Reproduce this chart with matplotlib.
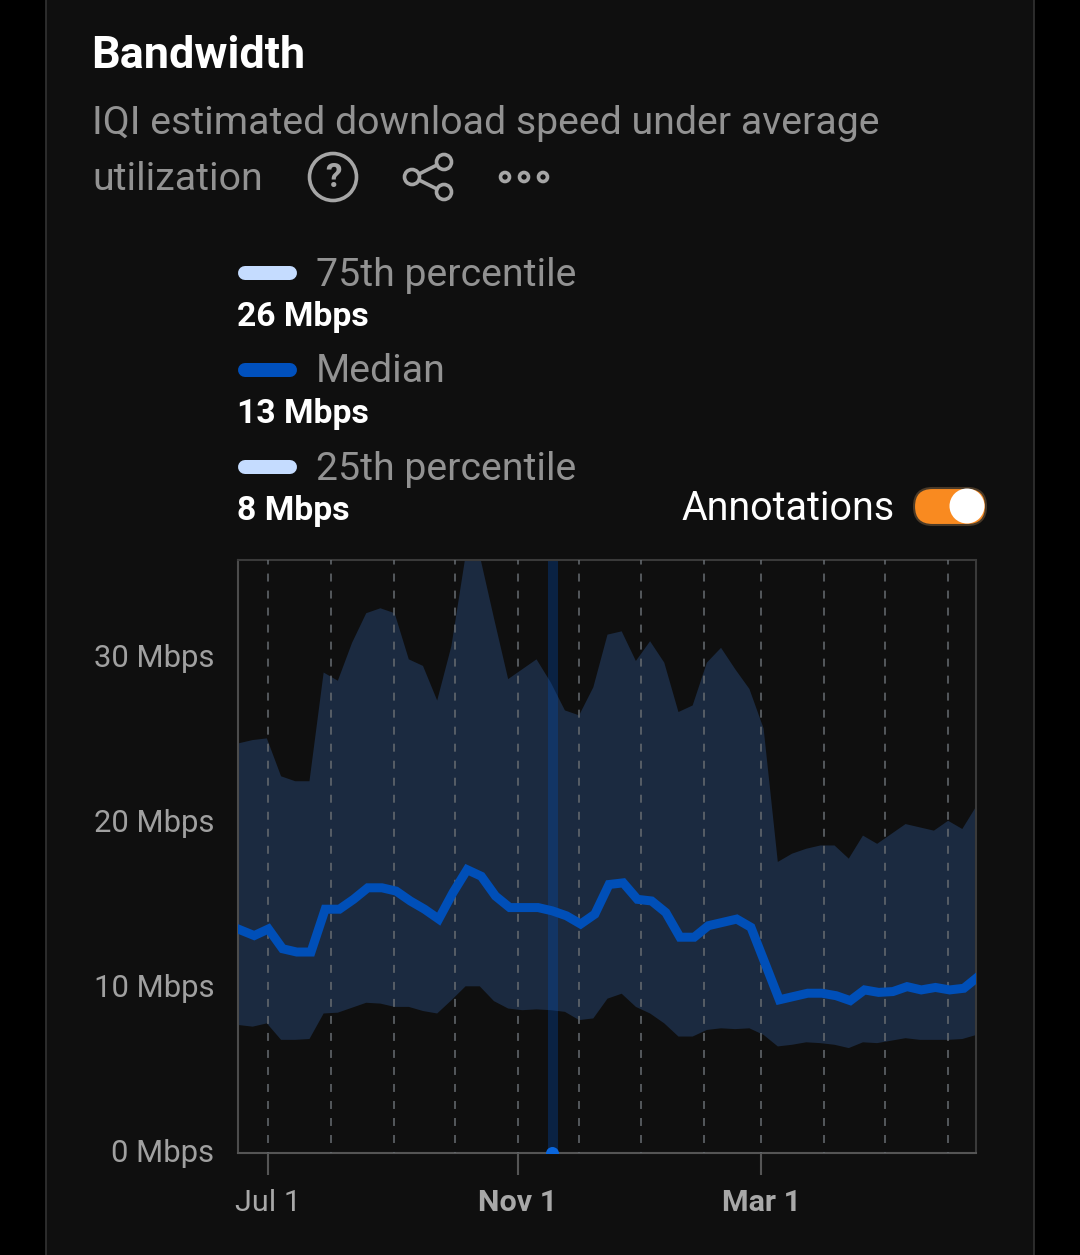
import datetime as dt
import matplotlib
matplotlib.use("Agg")
import matplotlib.pyplot as plt
import matplotlib.dates as mdates
from matplotlib.patches import Circle, FancyBboxPatch, Rectangle

plt.rcParams['font.family'] = ['Roboto', 'DejaVu Sans']

START = dt.date(2022, 6, 16)
upper = [24.9, 25.1, 25.2, 22.9, 22.6, 22.6, 29.2, 28.7, 31.0, 32.8, 33.1, 32.8, 30.0,
         29.6, 27.5, 30.8, 36.3, 36.3, 32.5, 28.8, 29.4, 30.0, 28.6, 26.9, 26.6, 28.3,
         31.5, 31.7, 29.9, 31.1, 29.8, 26.8, 27.2, 29.8, 30.7, 29.4, 28.2, 25.8, 17.7,
         18.2, 18.5, 18.7, 18.7, 17.9, 19.3, 18.8, 19.4, 20.0, 19.8, 19.6, 20.2, 19.7, 21.1]
median = [13.6, 13.2, 13.6, 12.4, 12.2, 12.2, 14.8, 14.8, 15.4, 16.1, 16.1, 15.9, 15.3,
          14.8, 14.2, 15.8, 17.2, 16.8, 15.6, 14.9, 14.9, 14.9, 14.7, 14.4, 13.9, 14.5,
          16.3, 16.4, 15.4, 15.3, 14.6, 13.1, 13.1, 13.8, 14.0, 14.2, 13.7, 11.5, 9.3,
          9.5, 9.7, 9.7, 9.55, 9.25, 9.9, 9.75, 9.8, 10.1, 9.9, 10.05, 9.9, 10.0, 10.6]
lower = [7.8, 7.7, 7.9, 6.9, 6.9, 6.95, 8.5, 8.55, 8.85, 9.15, 9.1, 8.9, 8.9,
         8.65, 8.5, 9.3, 10.15, 10.15, 9.25, 8.8, 8.7, 8.75, 8.7, 8.6, 8.1, 8.2,
         9.4, 9.7, 8.9, 8.5, 7.9, 7.1, 7.1, 7.5, 7.6, 7.55, 7.6, 7.2, 6.5,
         6.6, 6.75, 6.7, 6.6, 6.4, 6.75, 6.7, 6.85, 7.0, 6.9, 6.9, 6.9, 6.95, 7.2]
dates = [START + dt.timedelta(days=7 * i) for i in range(len(median))]
median_dates = [dates[0]] + [d + dt.timedelta(days=1) for d in dates[1:-1]] + [dates[-1]]
y_ticks = [0, 10, 20, 30]
y_labels = ['0 Mbps', '10 Mbps', '20 Mbps', '30 Mbps']
x_tick_dates = [dt.date(2022, 7, 1), dt.date(2022, 11, 1), dt.date(2023, 3, 1)]
x_tick_labels = ['Jul 1', 'Nov 1', 'Mar 1']
annotation_start = dt.date(2022, 11, 16)
annotation_end = dt.date(2022, 11, 21)
annotation_mid = dt.date(2022, 11, 18)
legend_names = ['75th percentile', 'Median', '25th percentile']
legend_values = ['26 Mbps', '13 Mbps', '8 Mbps']

BG = '#0f0f0f'
W, H = 1080, 1255
fig = plt.figure(figsize=(W / 100, H / 100), dpi=100, facecolor='black')

# page overlay in pixel coordinates
pg = fig.add_axes([0, 0, 1, 1], zorder=0)
pg.set_xlim(0, W); pg.set_ylim(H, 0); pg.axis('off')
pg.add_patch(Rectangle((46, -5), 988, H + 10, fc=BG, ec='#333333', lw=1.2))

def px(s):
    return s * 0.72

pg.text(91.5, 56, 'Bandwidth', color='white', fontsize=px(45), fontweight='bold', va='center')
GREY = '#929292'
pg.text(92, 123, 'IQI estimated download speed under average', color=GREY, fontsize=px(39.3), va='center')
pg.text(92, 179, 'utilization', color=GREY, fontsize=px(39.3), va='center')

# icons
IC = '#a6a6a6'
pg.add_patch(Circle((333, 177), 23.5, fc='none', ec=IC, lw=2.6))
pg.text(333, 178, '?', color=IC, fontsize=px(33), fontweight='bold', ha='center', va='center')
pg.plot([413, 443], [177, 162], color=IC, lw=2.6)
pg.plot([413, 443], [177, 192], color=IC, lw=2.6)
for cx, cy in [(412, 177), (444, 162), (444, 192)]:
    pg.add_patch(Circle((cx, cy), 7.5, fc=BG, ec=IC, lw=2.6, zorder=3))
for cx in [505, 524, 543]:
    pg.add_patch(Circle((cx, 177), 4.5, fc=BG, ec=IC, lw=2.6))

# legend
LIGHT = '#c5dcff'
BLUE = '#0050bd'
for name, val, col, yy in zip(legend_names, legend_values, [LIGHT, BLUE, LIGHT], [273, 370, 467]):
    pg.plot([245, 290], [yy, yy], color=col, lw=px(14), solid_capstyle='round')
    pg.text(316, yy + 2, name, color=GREY, fontsize=px(39.2), va='center')
    pg.text(237, yy + 44, val, color='white', fontsize=px(33.8), fontweight='bold', va='center')

# toggle
pg.text(681.5, 508, 'Annotations', color='white', fontsize=px(39.5), va='center')
pg.add_patch(FancyBboxPatch((914, 488), 72, 37, boxstyle='round,pad=0,rounding_size=18.5',
                            fc='#f98a20', ec='#4a3a28', lw=1.5))
pg.add_patch(Circle((967, 506), 17.5, fc='white', ec='none'))

# chart
L, R, T, B = 238, 976, 560, 1153
ax = fig.add_axes([L / W, 1 - B / H, (R - L) / W, (B - T) / H], zorder=1)
ax.patch.set_alpha(0)
ax.set_xlim(dates[0], dates[-1])
ax.set_ylim(0, 36)

ax.fill_between(dates, lower, upper, color='#1b2a40', lw=0, zorder=1)
ax.axvspan(annotation_start, annotation_end, color=BLUE, alpha=0.3, lw=0, zorder=2)
ax.xaxis.set_minor_locator(mdates.MonthLocator(bymonthday=1))
GRID_LS = (3.6, (4.1, 4.65))
ax.grid(True, which='minor', axis='x', color='#666b70', lw=1.4, ls=GRID_LS, alpha=0.8, zorder=3)
ax.grid(True, which='major', axis='x', color='#666b70', lw=1.4, ls=GRID_LS, alpha=0.8, zorder=3)
ax.set_axisbelow(False)
ax.plot(median_dates, median, color='#004fb8', lw=px(9), solid_joinstyle='miter', zorder=4)
ax.plot([annotation_mid], [0], 'o', color='#0a66dd', ms=px(13), mew=0, zorder=5)

ax.set_yticks(y_ticks, y_labels)
ax.set_xticks(x_tick_dates, x_tick_labels)
ax.tick_params(axis='y', length=0, pad=17, labelsize=px(31), labelcolor='#a0a0a0')
ax.tick_params(axis='x', which='major', length=px(22), width=1.5, color='#555555', pad=px(14),
               labelsize=px(30.5), labelcolor='#a8a8a8')
ax.tick_params(axis='x', which='minor', length=0)
for lab in ax.get_yticklabels():
    lab.set_va('center')
for lab, w in zip(ax.get_xticklabels(), ['normal', 'bold', 'bold']):
    lab.set_fontweight(w)
for side in ax.spines:
    ax.spines[side].set_color('#3a3a3a')
    ax.spines[side].set_linewidth(1.5)
ax.spines['bottom'].set_color('#555555')
ax.spines['left'].set_color('#4c4c4c')

fig.savefig('out.png', dpi=100, facecolor='black')
